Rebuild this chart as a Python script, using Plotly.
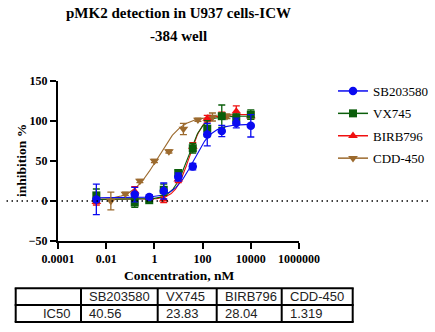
import numpy as np
import plotly.graph_objects as go

# ---------------- data ----------------
series_names = ["SB203580", "VX745", "BIRB796", "CDD-450"]
conc_main = [0.0039, 0.153, 0.61, 2.44, 9.77, 39.1, 156, 625, 2500, 10000]
conc_cdd = [0.0156, 0.0625, 0.25, 1, 4, 16, 64, 256, 1024]

sb_y = [2, 8, 5, 12.5, 30, 43, 83, 87.5, 97.5, 94]
sb_err = [19, 9, 3, 10, 5, 4, 14, 7, 6, 14]
vx_y = [7, -2, 1, 14, 35, 66, 90.5, 106, 104, 108]
vx_err = [8, 6, 2, 7, 4, 6, 10, 14, 5, 6]
birb_y = [-1, 12, 4, 2, 27, 68, 103, 107, 112, 106]
birb_err = [4, 6, 2, 4, 4, 5, 4, 4, 7, 4]
cdd_y = [0, 9, 25, 50, 62, 90, 101.5, 105, 106]
cdd_err = [11, 2, 2, 2, 2, 7, 2, 5, 3]

# 4PL fit parameters (IC50 from table)
fit_bottom = [4, 2, 2, 1]
fit_top = [96, 106, 108, 106]
ic50 = [40.56, 23.83, 28.04, 1.319]
fit_hill = [1.1, 1.4, 1.5, 0.85]

table_header = ["", "SB203580", "VX745", "BIRB796", "CDD-450"]
table_row = ["IC50", "40.56", "23.83", "28.04", "1.319"]

x_tickvals = [0.0001, 0.01, 1, 100, 10000, 1000000]
x_ticktext = ["0.0001", "0.01", "1", "100", "10000", "1000000"]
y_tickvals = [-50, 0, 50, 100, 150]

# ---------------- style ----------------
colors = ["#0a0af0", "#0b5e0b", "#f01010", "#9c6a2e"]
symbols = ["circle", "square", "triangle-up", "triangle-down"]
msizes = [8.5, 8, 8.5, 8.5]
xs = [conc_main, conc_main, conc_main, conc_cdd]
ys = [sb_y, vx_y, birb_y, cdd_y]
errs = [sb_err, vx_err, birb_err, cdd_err]

W, H = 435, 332
L, R, T, B = 58, 299, 81, 241
serif = "'Times New Roman', 'Liberation Serif', Tinos, 'DejaVu Serif', serif"
sans = "Arial, 'Liberation Sans', Arimo, sans-serif"

fig = go.Figure()

def fourpl(x, b, t, c, h):
    return b + (t - b) / (1 + (c / x) ** h)

order = [3, 2, 1, 0]
for i in order:
    xa = np.array(xs[i], dtype=float)
    xc = np.logspace(np.log10(xa.min()), np.log10(xa.max()), 200)
    yc = fourpl(xc, fit_bottom[i], fit_top[i], ic50[i], fit_hill[i])
    fig.add_trace(go.Scatter(x=xc, y=yc, mode="lines",
                             line=dict(color=colors[i], width=1.1),
                             showlegend=False, hoverinfo="skip"))
for i in order:
    fig.add_trace(go.Scatter(x=xs[i], y=ys[i], mode="markers",
                             marker=dict(symbol=symbols[i], size=msizes[i], color=colors[i]),
                             error_y=dict(type="data", array=errs[i], color=colors[i],
                                          thickness=1.3, width=3.5),
                             showlegend=False))
for i in range(4):
    fig.add_trace(go.Scatter(x=[None], y=[None], mode="lines+markers", name=series_names[i],
                             legendgroup="g%d" % i,
                             marker=dict(symbol=symbols[i], size=msizes[i], color=colors[i]),
                             line=dict(color=colors[i], width=1.5)))

# ---------------- table (shapes + text) ----------------
tab_x = [15.7, 81, 157.7, 216.7, 281.7, 352.7]
tab_y = [288.3, 305, 322]
for yy in tab_y:
    fig.add_shape(type="line", xref="paper", yref="paper",
                  x0=tab_x[0] / W - 1 / W, x1=tab_x[-1] / W + 1 / W, y0=1 - yy / H, y1=1 - yy / H,
                  line=dict(color="black", width=2))
for xx in tab_x:
    fig.add_shape(type="line", xref="paper", yref="paper",
                  x0=xx / W, x1=xx / W, y0=1 - tab_y[0] / H, y1=1 - tab_y[-1] / H,
                  line=dict(color="black", width=2))
row_centers = [(tab_y[0] + tab_y[1]) / 2, (tab_y[1] + tab_y[2]) / 2]
for r, row in enumerate([table_header, table_row]):
    for c, txt in enumerate(row):
        if not txt:
            continue
        if c == 0:
            fig.add_annotation(text=txt, xref="paper", yref="paper",
                               x=(tab_x[1] - 9) / W, y=1 - row_centers[r] / H,
                               xanchor="right", yanchor="middle", showarrow=False,
                               font=dict(family=sans, size=13, color="#222"))
        else:
            fig.add_annotation(text=txt, xref="paper", yref="paper",
                               x=(tab_x[c] + 6) / W, y=1 - row_centers[r] / H,
                               xanchor="left", yanchor="middle", showarrow=False,
                               font=dict(family=sans, size=13, color="#222"))

fig.add_shape(type="line", xref="paper", yref="y", x0=0.015, x1=0.99, y0=0, y1=0,
              line=dict(color="black", width=1.5, dash="1.5px,3.5px"))

fig.update_layout(
    width=W, height=H,
    margin=dict(l=0, r=0, t=0, b=0, autoexpand=False),
    paper_bgcolor="white", plot_bgcolor="white",
    font=dict(family=serif, color="black"),
    xaxis=dict(type="log", range=[-4, 6], domain=[L / W, R / W], automargin=False,
               tickvals=x_tickvals, ticktext=x_ticktext,
               showline=True, linecolor="black", linewidth=2,
               ticks="outside", ticklen=6, tickwidth=2, tickcolor="black",
               showgrid=False, zeroline=False,
               tickfont=dict(family=serif, size=12, color="black", weight="bold")),
    yaxis=dict(range=[-50, 150], domain=[1 - B / H, 1 - T / H], automargin=False,
               tickvals=y_tickvals,
               showline=True, linecolor="black", linewidth=2,
               ticks="outside", ticklen=6, tickwidth=2, tickcolor="black",
               showgrid=False, zeroline=False,
               tickfont=dict(family=serif, size=12, color="black", weight="bold")),
    legend=dict(x=333 / W, y=1 - 76 / H, xanchor="left", yanchor="top",
                font=dict(family=serif, size=13, color="black"),
                bgcolor="rgba(0,0,0,0)", tracegroupgap=2.5),
    showlegend=True,
)

fig.add_annotation(text="<b>inhibition %</b>", xref="paper", yref="paper",
                   x=21 / W, y=1 - 161 / H, showarrow=False, textangle=-90,
                   xanchor="center", yanchor="middle",
                   font=dict(family=serif, size=13.5, color="black"))
fig.add_annotation(text="<b>Concentration, nM</b>", xref="paper", yref="paper",
                   x=179 / W, y=1 - 275 / H, showarrow=False,
                   xanchor="center", yanchor="middle",
                   font=dict(family=serif, size=13.5, color="black"))
fig.add_annotation(text="<b>pMK2 detection in U937 cells-ICW</b>", xref="paper", yref="paper",
                   x=178 / W, y=1 - 13 / H, showarrow=False, xanchor="center", yanchor="middle",
                   font=dict(family=serif, size=15, color="black"))
fig.add_annotation(text="<b>-384 well</b>", xref="paper", yref="paper",
                   x=178 / W, y=1 - 36 / H, showarrow=False, xanchor="center", yanchor="middle",
                   font=dict(family=serif, size=15, color="black"))

fig.write_html("out.html")
